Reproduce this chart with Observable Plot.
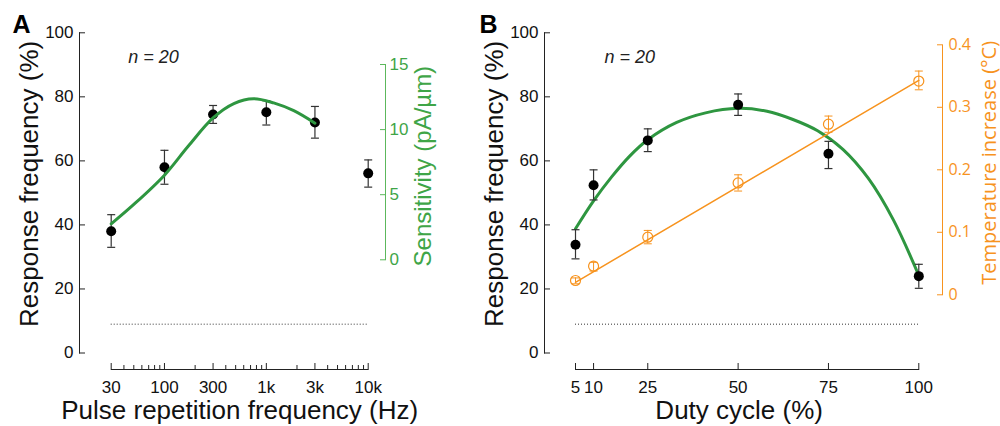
<!DOCTYPE html>
<html><head><meta charset="utf-8">
<script src="https://cdn.jsdelivr.net/npm/d3@7"></script>
<script src="https://cdn.jsdelivr.net/npm/@observablehq/plot@0.6"></script>
<style>
html,body{margin:0;padding:0;background:#fff;}
#chart{position:relative;width:1000px;height:426px;overflow:hidden;background:#fff;}
#chart svg{position:absolute;left:0;top:0;overflow:visible;background:transparent;}
</style></head><body><div id="chart"></div>
<script>
// ---------- Panel A data ----------
const prfHz = [30, 100, 300, 1000, 3000, 10000];
const prfResp = [38.0, 58.0, 74.5, 75.2, 72.0, 56.1];
const prfRespHi = [43.2, 63.3, 77.3, 78.8, 77.0, 60.3];
const prfRespLo = [33.0, 52.7, 71.7, 71.2, 67.1, 51.8];
const sensHz = [30, 50, 100, 170, 300, 480, 750, 1180, 1860, 3000];
const sensVal = [2.76, 4.25, 6.5, 8.7, 10.9, 12.0, 12.37, 12.05, 11.45, 10.49];
const prfTicks = [30, 100, 300, 1000, 3000, 10000];
const prfTickLabels = ["30", "100", "300", "1k", "3k", "10k"];
const prfMinorTicks = [40,50,60,70,80,90,200,400,500,600,700,800,900,2000,4000,5000,6000,7000,8000,9000];
const respTicks = [0, 20, 40, 60, 80, 100];
const sensTicks = [0, 5, 10, 15];
const chanceLevel = 9;

// ---------- Panel B data ----------
const duty = [5, 10, 25, 50, 75, 100];
const dutyResp = [33.8, 52.4, 66.4, 77.5, 62.2, 24.0];
const dutyRespHi = [38.5, 57.2, 70.0, 80.9, 66.1, 27.7];
const dutyRespLo = [29.4, 47.8, 62.9, 74.2, 57.6, 20.2];
const fitDuty = [5, 10, 15, 20, 25, 33, 41, 50, 58, 65, 72, 79, 86, 93, 100];
const fitResp = [38.8, 47.5, 55.0, 61.5, 66.6, 72.0, 75.0, 76.4, 75.5, 73.0, 69.4, 63.6, 54.6, 41.5, 24.2];
const temp = [0.0229, 0.0458, 0.0922, 0.179, 0.273, 0.342];
const tempHi = [0.027, 0.052, 0.103, 0.192, 0.286, 0.358];
const tempLo = [0.0176, 0.038, 0.0816, 0.166, 0.260, 0.328];
const tempFitDuty = [5, 100];
const tempFit = [0.020, 0.343];
const dutyTicks = [5, 10, 25, 50, 75, 100];
const dutyTickLabels = ["5", "10", "25", "50", "75", "100"];
const tempTicks = [0, 0.1, 0.2, 0.3, 0.4];
const tempTickLabels = ["0", "0.1", "0.2", "0.3", "0.4"];

// ---------- tables ----------
const tableA = prfHz.map((x, i) => ({x, y: prfResp[i], hi: prfRespHi[i], lo: prfRespLo[i]}));
const sensCurve = sensHz.map((x, i) => ({x, y: sensVal[i]}));
const tableB = duty.map((x, i) => ({x, y: dutyResp[i], hi: dutyRespHi[i], lo: dutyRespLo[i]}));
const fitCurve = fitDuty.map((x, i) => ({x, y: fitResp[i]}));
const tableT = duty.map((x, i) => ({x, y: temp[i], hi: tempHi[i], lo: tempLo[i]}));
const tempLine = tempFitDuty.map((x, i) => ({x, y: tempFit[i]}));

// ---------- styling ----------
const W = 1000, H = 426;
const FONT = "'Liberation Sans', Arial, Helvetica, sans-serif";
const FONT2 = "'Open Sans', 'Noto Sans', sans-serif";
const INK = "#111";
const AX = "#222";
const GREEN_LINE = "#2e9640";
const GREEN_AX = "#5cb85c";
const GREEN_TXT = "#3fa547";
const ORANGE = "#f7931e";
const capSymbol = {draw(ctx, size) { const r = Math.sqrt(size / Math.PI); ctx.moveTo(-r, 0); ctx.lineTo(r, 0); }};

function layer(f, opts) {
  const svg = Plot.plot({
    width: W, height: H,
    marginLeft: f.l, marginRight: W - f.r, marginTop: f.t, marginBottom: H - f.b,
    style: {fontFamily: FONT, color: INK, background: "transparent", overflow: "visible"},
    ...opts
  });
  svg.style.background = "transparent";
  document.getElementById("chart").appendChild(svg);
}

function errorMarks(data, color, w) {
  return [
    Plot.ruleX(data, {x: "x", y1: "lo", y2: "hi", stroke: color, strokeWidth: w}),
    Plot.dot(data, {x: "x", y: "hi", symbol: capSymbol, r: 4, stroke: color, fill: "none", strokeWidth: w}),
    Plot.dot(data, {x: "x", y: "lo", symbol: capSymbol, r: 4, stroke: color, fill: "none", strokeWidth: w})
  ];
}
function xTickLabels(ticks, labels) {
  return Plot.text(ticks, {x: d => d, text: (d, i) => labels[i], frameAnchor: "bottom", lineAnchor: "top", dy: 11, fontSize: 17, fill: INK});
}
function yTickLabels(ticks, labels, side, color, pad, size, family) {
  return Plot.text(ticks, {y: d => d, text: (d, i) => labels[i], frameAnchor: side,
    textAnchor: side === "left" ? "end" : "start", dx: side === "left" ? -pad : pad,
    fontSize: size, fontFamily: family, fill: color});
}

// ===== Panel A =====
const A = {x0: 110.7, x1: 367.7, yTop: 32.3, yBot: 352.5, xAxisY: 369, yAxisX: 79};
layer({l: A.x0, r: A.x1, t: A.xAxisY - 6, b: A.xAxisY}, {
  x: {type: "log", domain: [30, 10000], axis: null},
  y: {domain: [0, 100], range: [A.yBot, A.yTop], axis: null},
  marks: [
    Plot.frame({anchor: "bottom", stroke: AX}),
    Plot.tickX(prfTicks, {x: d => d, stroke: AX}),
    Plot.tickX(prfMinorTicks, {x: d => d, stroke: AX, insetTop: 2}),
    xTickLabels(prfTicks, prfTickLabels),
    Plot.text(["Pulse repetition frequency (Hz)"], {frameAnchor: "bottom", textAnchor: "middle", lineAnchor: "middle", dy: 41.5, fontSize: 26, fill: INK}),
    Plot.ruleY([chanceLevel], {stroke: "#333", strokeDasharray: "1,2", strokeWidth: 1}),
    ...errorMarks(tableA, "#333", 1.2),
    Plot.dot(tableA, {x: "x", y: "y", r: 5, fill: "#000"})
  ]
});
layer({l: A.yAxisX, r: A.yAxisX + 6, t: A.yTop, b: A.yBot}, {
  y: {domain: [0, 100], axis: null},
  marks: [
    Plot.frame({anchor: "left", stroke: AX}),
    Plot.tickY(respTicks, {y: d => d, stroke: AX}),
    yTickLabels(respTicks, respTicks.map(String), "left", INK, 6, 17, FONT),
    Plot.text(["Response frequency (%)"], {frameAnchor: "left", textAnchor: "middle", lineAnchor: "middle", rotate: -90, dx: -50, dy: -9, fontSize: 26, fill: INK}),
    Plot.text(["A"], {frameAnchor: "top-left", dx: 12 - A.yAxisX, dy: 0.5, textAnchor: "start", lineAnchor: "bottom", fontSize: 25, fontWeight: "bold", fill: "#000"}),
    Plot.text(["n = 20"], {frameAnchor: "top-left", dx: 127.7 - A.yAxisX, dy: 30, textAnchor: "start", lineAnchor: "bottom", fontSize: 18, fontStyle: "italic", fill: "#222"})
  ]
});
layer({l: 380, r: 385, t: 64, b: 259.3}, {
  x: {type: "log", domain: [30, 10000], range: [A.x0, A.x1], axis: null},
  y: {domain: [0, 15], axis: null},
  marks: [
    Plot.frame({anchor: "right", stroke: GREEN_AX}),
    Plot.tickY(sensTicks, {y: d => d, stroke: GREEN_AX}),
    yTickLabels(sensTicks, sensTicks.map(String), "right", GREEN_TXT, 4, 17, FONT),
    Plot.text(["Sensitivity (pA/µm)"], {frameAnchor: "right", textAnchor: "middle", lineAnchor: "middle", rotate: -90, dx: 38, dy: 4, fontSize: 24, fill: GREEN_TXT}),
    Plot.line(sensCurve, {x: "x", y: "y", curve: "catmull-rom", stroke: GREEN_LINE, strokeWidth: 3})
  ]
});

// ===== Panel B =====
const B = {x0: 575, x1: 918.3, yTop: 32.3, yBot: 352.5, xAxisY: 369, yAxisX: 544};
layer({l: B.x0, r: B.x1, t: B.xAxisY - 6, b: B.xAxisY}, {
  x: {domain: [5, 100], axis: null},
  y: {domain: [0, 100], range: [B.yBot, B.yTop], axis: null},
  marks: [
    Plot.frame({anchor: "bottom", stroke: AX}),
    Plot.tickX(dutyTicks, {x: d => d, stroke: AX}),
    xTickLabels(dutyTicks, dutyTickLabels),
    Plot.text(["Duty cycle (%)"], {frameAnchor: "bottom", textAnchor: "middle", lineAnchor: "middle", dx: -8, dy: 41.5, fontSize: 26, fill: INK}),
    Plot.ruleY([chanceLevel], {stroke: "#333", strokeDasharray: "1,2", strokeWidth: 1}),
    Plot.line(fitCurve, {x: "x", y: "y", curve: "catmull-rom", stroke: GREEN_LINE, strokeWidth: 3}),
    ...errorMarks(tableB, "#333", 1.2),
    Plot.dot(tableB, {x: "x", y: "y", r: 5, fill: "#000"})
  ]
});
layer({l: B.yAxisX, r: B.yAxisX + 6, t: B.yTop, b: B.yBot}, {
  y: {domain: [0, 100], axis: null},
  marks: [
    Plot.frame({anchor: "left", stroke: AX}),
    Plot.tickY(respTicks, {y: d => d, stroke: AX}),
    yTickLabels(respTicks, respTicks.map(String), "left", INK, 6, 17, FONT),
    Plot.text(["Response frequency (%)"], {frameAnchor: "left", textAnchor: "middle", lineAnchor: "middle", rotate: -90, dx: -50, dy: -9, fontSize: 26, fill: INK}),
    Plot.text(["B"], {frameAnchor: "top-left", dx: 479 - B.yAxisX, dy: 0.5, textAnchor: "start", lineAnchor: "bottom", fontSize: 25, fontWeight: "bold", fill: "#000"}),
    Plot.text(["n = 20"], {frameAnchor: "top-left", dx: 604 - B.yAxisX, dy: 30, textAnchor: "start", lineAnchor: "bottom", fontSize: 18, fontStyle: "italic", fill: "#222"})
  ]
});
layer({l: 937, r: 942, t: 44.3, b: 294.3}, {
  x: {domain: [5, 100], range: [B.x0, B.x1], axis: null},
  y: {domain: [0, 0.4], axis: null},
  marks: [
    Plot.frame({anchor: "right", stroke: ORANGE}),
    Plot.tickY(tempTicks, {y: d => d, stroke: ORANGE}),
    yTickLabels(tempTicks, tempTickLabels, "right", ORANGE, 6, 16, FONT2),
    Plot.text(["Temperature increase (°C)"], {frameAnchor: "right", textAnchor: "middle", lineAnchor: "middle", rotate: -90, dx: 46.6, dy: -7, fontSize: 20, fontFamily: FONT2, fill: ORANGE}),
    Plot.line(tempLine, {x: "x", y: "y", stroke: ORANGE, strokeWidth: 1.5}),
    ...errorMarks(tableT, ORANGE, 1),
    Plot.dot(tableT, {x: "x", y: "y", r: 5, stroke: ORANGE, fill: "none", strokeWidth: 1.2})
  ]
});
</script></body></html>
